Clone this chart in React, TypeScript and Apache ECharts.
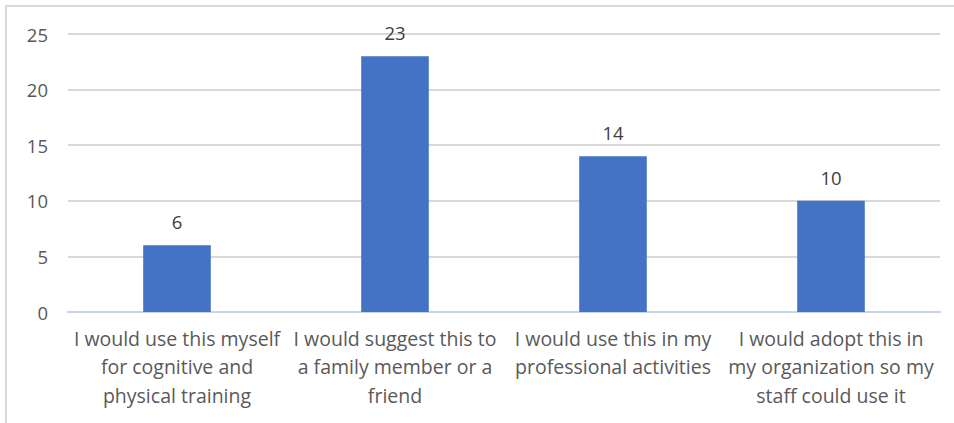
import React, { useEffect, useRef } from "react";
import * as echarts from "echarts";

const categories: string[] = [
  "I would use this myself\nfor cognitive and\nphysical training",
  "I would suggest this to\na family member or a\nfriend",
  "I would use this in my\nprofessional activities",
  "I would adopt this in\nmy organization so my\nstaff could use it",
];
const values: number[] = [6, 23, 14, 10];
const yTicks: number[] = [0, 5, 10, 15, 20, 25];

export default function App() {
  const ref = useRef<HTMLDivElement>(null);
  useEffect(() => {
    if (!ref.current) return;
    const chart = echarts.init(ref.current, undefined, { renderer: "svg" });
    const font = "'Open Sans', Lato, sans-serif";
    chart.setOption({
      animation: false,
      backgroundColor: "#ffffff",
      grid: { left: 68, right: 14, top: 34, bottom: 111, containLabel: false },
      graphic: [
        {
          type: "rect",
          shape: { x: 6, y: 6, width: 970, height: 440 },
          style: { fill: "none", stroke: "#d9d9d9", lineWidth: 2 },
          silent: true,
        },
      ],
      xAxis: {
        type: "category",
        data: categories,
        axisLine: { show: true, lineStyle: { color: "#c9d5ec", width: 2 } },
        axisTick: { show: false },
        axisLabel: {
          color: "#595959",
          fontFamily: font,
          fontSize: 19.5,
          lineHeight: 28.5,
          margin: 12,
          interval: 0,
        },
      },
      yAxis: {
        type: "value",
        min: yTicks[0],
        max: yTicks[yTicks.length - 1],
        interval: 5,
        axisLine: { show: false },
        axisTick: { show: false },
        splitLine: { lineStyle: { color: "#d9d9d9", width: 2 } },
        axisLabel: { color: "#595959", fontFamily: font, fontSize: 18.5, margin: 20 },
      },
      series: [
        {
          type: "bar",
          data: values,
          barWidth: "31%",
          itemStyle: { color: "#4472C4" },
          label: {
            show: true,
            position: "top",
            distance: 14,
            color: "#404040",
            fontFamily: font,
            fontSize: 18.5,
          },
        },
      ],
    });
    return () => chart.dispose();
  }, []);
  return (
    <div
      ref={ref}
      style={{ position: "fixed", left: 0, top: 0, width: 954, height: 423 }}
    />
  );
}
